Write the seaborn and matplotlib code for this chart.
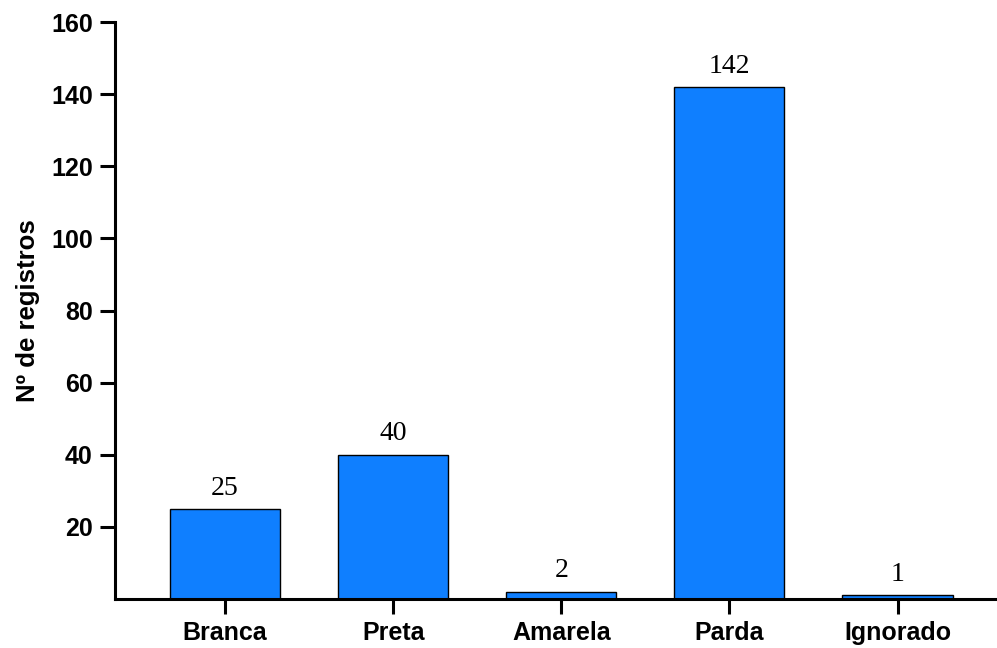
import pandas as pd
import matplotlib
matplotlib.use('Agg')
import matplotlib.pyplot as plt
import seaborn as sns

# ==================================================
# DADOS
# ==================================================

categorias = ['Branca', 'Preta', 'Amarela', 'Parda', 'Ignorado']
registros = [25, 40, 2, 142, 1]
yticks = [20, 40, 60, 80, 100, 120, 140, 160]

df = pd.DataFrame({'cor': categorias, 'n': registros})

# ==================================================
# GRAFICO
# ==================================================

sns.set_style('ticks')
plt.rcParams['font.family'] = ['Liberation Sans', 'DejaVu Sans']
plt.rcParams['text.color'] = 'black'
plt.rcParams['axes.labelcolor'] = 'black'
plt.rcParams['xtick.color'] = 'black'
plt.rcParams['ytick.color'] = 'black'

fig = plt.figure(figsize=(9.97, 6.48), dpi=100)
ax = fig.add_axes([0.1153, 0.0756, 0.8827, 0.8904])

sns.barplot(data=df, x='cor', y='n', color='#0f7fff', saturation=1,
            width=0.655, edgecolor='black', linewidth=1, ax=ax)

# rotulos de valor
for i, v in enumerate(registros):
    ax.annotate(str(v), (i, v), xytext=(0, 6), textcoords='offset points',
                ha='center', va='bottom', fontsize=20, color='black',
                family=['Liberation Serif', 'DejaVu Serif'])

ax.set_xlim(-0.655, 4.58)
ax.set_ylim(0, 160)
ax.set_yticks(yticks)
ax.set_xlabel('')
ax.set_ylabel('Nº de registros', fontsize=18.5, fontweight='bold', labelpad=8)

ax.tick_params(axis='both', labelsize=18, width=2.2, length=11, color='black')
ax.tick_params(axis='x', pad=5)
ax.tick_params(axis='y', pad=5)
for lab in ax.get_xticklabels() + ax.get_yticklabels():
    lab.set_fontweight('bold')

for s in ['top', 'right']:
    ax.spines[s].set_visible(False)
for s in ['left', 'bottom']:
    ax.spines[s].set_linewidth(2.2)
    ax.spines[s].set_color('black')

fig.savefig('out.png', dpi=100)
